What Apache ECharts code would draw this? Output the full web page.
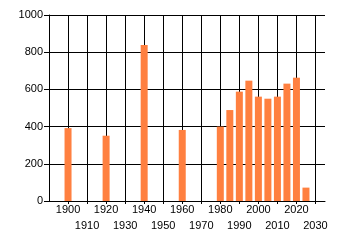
<!DOCTYPE html>
<html><head><meta charset="utf-8">
<script src="https://cdn.jsdelivr.net/npm/echarts@6/dist/echarts.min.js"></script>
<style>html,body{margin:0;padding:0;background:#fff}#c{width:340px;height:245px}</style>
</head><body><div id="c"></div>
<script>
var years = [1900, 1920, 1940, 1960, 1980, 1985, 1990, 1995, 2000, 2005, 2010, 2015, 2020, 2025];
var values = [392, 351, 839, 382, 400, 489, 588, 647, 561, 550, 561, 631, 663, 72];
var yTicks = [0, 200, 400, 600, 800, 1000];

var chart = echarts.init(document.getElementById('c'), null, {renderer: 'canvas'});
var font = 'Liberation Sans, Arial, sans-serif';
chart.setOption({
  animation: false,
  grid: {left: 49, top: 15, right: 15, bottom: 44, containLabel: false},
  xAxis: {
    type: 'value', min: 1890, max: 2035, interval: 10,
    axisLine: {show: true, lineStyle: {color: '#000', width: 1}},
    axisTick: {show: true, length: 3, lineStyle: {color: '#000'}},
    splitLine: {show: true, showMinLine: false, showMaxLine: false, lineStyle: {color: '#000', width: 1}},
    axisLabel: {
      margin: 1, fontSize: 11, lineHeight: 16, color: '#000', fontFamily: font,
      showMinLabel: false, showMaxLabel: false,
      formatter: function (v) {
        if (v % 10 !== 0 || v <= 1890 || v > 2030) return '';
        return (v % 20 === 0) ? String(v) : '\n' + v;
      }
    }
  },
  yAxis: {
    type: 'value', min: yTicks[0], max: yTicks[yTicks.length - 1], interval: 200,
    axisLine: {show: true, lineStyle: {color: '#000', width: 1}},
    axisTick: {show: true, length: 5, lineStyle: {color: '#000'}},
    splitLine: {show: true, lineStyle: {color: '#000', width: 1}},
    axisLabel: {margin: 6, fontSize: 11, color: '#000', fontFamily: font,
      formatter: function (v) { return String(v); }}
  },
  series: [{
    type: 'bar',
    barWidth: 7,
    itemStyle: {color: '#ff8040'},
    data: years.map(function (y, i) { return [y, values[i]]; })
  }]
});
</script></body></html>
